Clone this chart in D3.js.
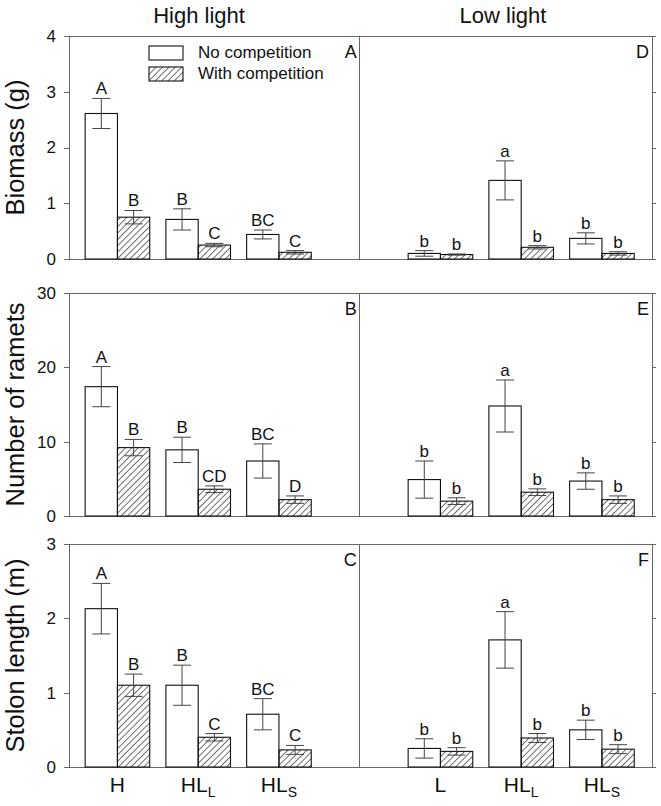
<!DOCTYPE html>
<html lang="en">
<head>
  <meta charset="UTF-8" />
  <title>Competition and light</title>
  <style>
    body {
      margin: 0;
      background: white;
    }
    svg text {
      font-family: Arial, 'Liberation Sans', sans-serif;
      fill: #111;
    }
    .frame line, .frame path, .axis path, .axis line {
      stroke: #666;
      stroke-width: 1;
      shape-rendering: crispEdges;
    }
    .axis text {
      font-size: 17px;
    }
  </style>
</head>
<body>
  <svg width="661" height="806"></svg>

  <script src="https://d3js.org/d3.v7.min.js"></script>
  <script>
    // treatments (H = high light only, L = low light only, HL = heterogeneous)
    const groupPos = [1, 2, 3, 5, 6, 7];
    const groupLabels = ["H", "HL_L", "HL_S", "L", "HL_L", "HL_S"];
    const lightTitles = ["High light", "Low light"];
    const seriesNames = ["No competition", "With competition"];

    // biomass (g)
    const biomassNo = [2.61, 0.71, 0.44, 0.10, 1.41, 0.37];
    const biomassNoSE = [0.27, 0.19, 0.08, 0.05, 0.35, 0.10];
    const biomassWith = [0.75, 0.25, 0.12, 0.08, 0.21, 0.10];
    const biomassWithSE = [0.12, 0.03, 0.03, 0.01, 0.03, 0.03];
    const biomassNoLetters = ["A", "B", "BC", "b", "a", "b"];
    const biomassWithLetters = ["B", "C", "C", "b", "b", "b"];

    // number of ramets
    const rametsNo = [17.4, 8.9, 7.4, 4.9, 14.8, 4.7];
    const rametsNoSE = [2.7, 1.7, 2.3, 2.5, 3.5, 1.1];
    const rametsWith = [9.2, 3.6, 2.2, 2.0, 3.2, 2.2];
    const rametsWithSE = [1.1, 0.45, 0.5, 0.45, 0.45, 0.5];
    const rametsNoLetters = ["A", "B", "BC", "b", "a", "b"];
    const rametsWithLetters = ["B", "CD", "D", "b", "b", "b"];

    // stolon length (m)
    const stolonNo = [2.13, 1.10, 0.71, 0.25, 1.71, 0.50];
    const stolonNoSE = [0.34, 0.27, 0.21, 0.13, 0.38, 0.13];
    const stolonWith = [1.10, 0.40, 0.23, 0.21, 0.39, 0.24];
    const stolonWithSE = [0.15, 0.05, 0.06, 0.05, 0.06, 0.06];
    const stolonNoLetters = ["A", "B", "BC", "b", "a", "b"];
    const stolonWithLetters = ["B", "C", "C", "b", "b", "b"];

    const panels = [
      { title: "Biomass (g)", max: 4, ticks: [0, 1, 2, 3, 4], tags: ["A", "D"],
        no: biomassNo, noSE: biomassNoSE, wi: biomassWith, wiSE: biomassWithSE,
        noL: biomassNoLetters, wiL: biomassWithLetters },
      { title: "Number of ramets", max: 30, ticks: [0, 10, 20, 30], tags: ["B", "E"],
        no: rametsNo, noSE: rametsNoSE, wi: rametsWith, wiSE: rametsWithSE,
        noL: rametsNoLetters, wiL: rametsWithLetters },
      { title: "Stolon length (m)", max: 3, ticks: [0, 1, 2, 3], tags: ["C", "F"],
        no: stolonNo, noSE: stolonNoSE, wi: stolonWith, wiSE: stolonWithSE,
        noL: stolonNoLetters, wiL: stolonWithLetters }
    ];

    const left = 69, right = 652;
    const panelTops = [36, 293, 544];
    const panelH = 223;

    const svg = d3.select("svg");

    // hatch for the "with competition" bars
    svg.append("defs").append("pattern")
        .attr("id", "hatch")
        .attr("patternUnits", "userSpaceOnUse")
        .attr("width", 4.5)
        .attr("height", 4.5)
        .attr("patternTransform", "rotate(45)")
      .append("line")
        .attr("x1", 0).attr("y1", 0)
        .attr("x2", 0).attr("y2", 4.5)
        .attr("stroke", "#111")
        .attr("stroke-width", 1.2);

    const x = d3.scaleLinear().domain([0.4, 7.62]).range([left, right]);
    const bw = x(1.4) - x(1);

    function label(g, px, py, str, size, anchor, rot) {
      return g.append("text")
        .attr("transform", `translate(${px},${py})` + (rot ? ` rotate(${rot})` : ""))
        .attr("text-anchor", anchor || "middle")
        .style("font-size", size + "px")
        .text(str);
    }

    label(svg, 199, 23, lightTitles[0], 22);
    label(svg, 503, 23, lightTitles[1], 22);

    panels.forEach((p, pi) => {
      const top = panelTops[pi];
      const y = d3.scaleLinear().domain([0, p.max]).range([top + panelH, top]);
      const g = svg.append("g");
      const y0 = y(0);

      // axes and frame
      g.append("g")
        .attr("class", "axis")
        .attr("transform", `translate(${left},0)`)
        .call(d3.axisLeft(y).tickValues(p.ticks).tickSize(5).tickSizeOuter(0).tickPadding(8).tickFormat(d3.format("d")));
      g.append("g")
        .attr("class", "axis")
        .attr("transform", `translate(${right},0)`)
        .call(d3.axisRight(y).tickValues(p.ticks).tickSize(4).tickSizeOuter(0).tickFormat(""));
      const frame = g.append("g").attr("class", "frame");
      frame.append("line").attr("x1", left).attr("x2", right).attr("y1", top).attr("y2", top);
      frame.append("line").attr("x1", left).attr("x2", right).attr("y1", y0).attr("y2", y0);
      frame.append("line").attr("x1", x(4)).attr("x2", x(4)).attr("y1", top).attr("y2", y0);

      // bars
      const bars = [];
      groupPos.forEach((pos, i) => {
        bars.push({ cx: x(pos) - bw / 2, x0: x(pos) - bw, v: p.no[i], se: p.noSE[i], t: p.noL[i], fill: "white" });
        bars.push({ cx: x(pos) + bw / 2, x0: x(pos), v: p.wi[i], se: p.wiSE[i], t: p.wiL[i], fill: "url(#hatch)" });
      });

      g.selectAll("rect.bar")
        .data(bars)
        .join("rect")
          .attr("class", "bar")
          .attr("x", d => d.x0)
          .attr("y", d => y(d.v))
          .attr("width", bw)
          .attr("height", d => y0 - y(d.v))
          .attr("fill", d => d.fill)
          .attr("stroke", "#111")
          .attr("stroke-width", 1.1);

      // error bars
      const eb = g.selectAll("g.err")
        .data(bars)
        .join("g")
          .attr("class", "err")
          .attr("stroke", "#444")
          .attr("stroke-width", 1);
      eb.append("line")
        .attr("x1", d => d.cx).attr("x2", d => d.cx)
        .attr("y1", d => y(d.v + d.se)).attr("y2", d => y(d.v - d.se));
      eb.append("line")
        .attr("x1", d => d.cx - 9).attr("x2", d => d.cx + 9)
        .attr("y1", d => y(d.v + d.se)).attr("y2", d => y(d.v + d.se));
      eb.append("line")
        .attr("x1", d => d.cx - 9).attr("x2", d => d.cx + 9)
        .attr("y1", d => y(d.v - d.se)).attr("y2", d => y(d.v - d.se));

      // significance letters
      bars.forEach(d => label(g, d.cx, y(d.v + d.se) - 4, d.t, 17));

      // panel tags
      label(g, x(4) - 3, top + 22, p.tags[0], 18, "end");
      label(g, right - 3, top + 22, p.tags[1], 18, "end");

      // y title
      label(g, 24, top + panelH / 2, p.title, 25.5, "middle", -90);

      // legend in first panel
      if (pi === 0) {
        seriesNames.forEach((name, k) => {
          g.append("rect")
            .attr("x", 149).attr("y", 46 + k * 21)
            .attr("width", 34).attr("height", 14)
            .attr("fill", k ? "url(#hatch)" : "white")
            .attr("stroke", "#111")
            .attr("stroke-width", 1.1);
          label(g, 198, 58 + k * 21, name, 17, "start");
        });
      }

      // category labels on bottom panel
      if (pi === panels.length - 1) {
        groupPos.forEach((pos, i) => {
          const parts = groupLabels[i].split("_");
          const t = label(g, x(pos), y0 + 25, parts[0], 21);
          if (parts[1]) {
            t.append("tspan")
              .attr("dy", 5)
              .style("font-size", "14px")
              .text(parts[1]);
          }
        });
      }
    });
  </script>
</body>
</html>
